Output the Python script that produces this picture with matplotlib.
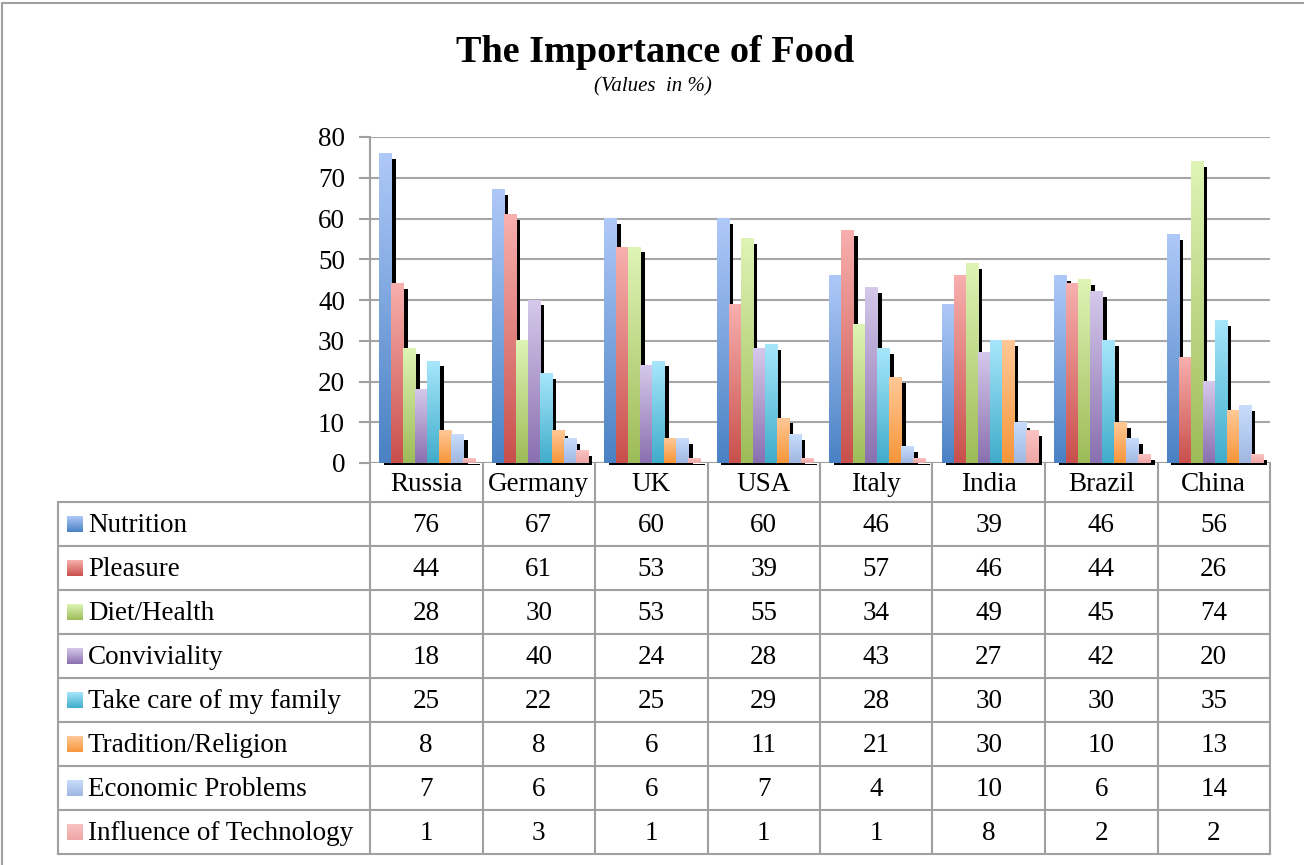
import numpy as np
import matplotlib.pyplot as plt
from matplotlib.colors import LinearSegmentedColormap
from matplotlib.lines import Line2D

countries = ['Russia', 'Germany', 'UK', 'USA', 'Italy', 'India', 'Brazil', 'China']
series = ['Nutrition', 'Pleasure', 'Diet/Health', 'Conviviality',
          'Take care of my family', 'Tradition/Religion',
          'Economic Problems', 'Influence of Technology']

nutrition = [76, 67, 60, 60, 46, 39, 46, 56]
pleasure = [44, 61, 53, 39, 57, 46, 44, 26]
diet_health = [28, 30, 53, 55, 34, 49, 45, 74]
conviviality = [18, 40, 24, 28, 43, 27, 42, 20]
family = [25, 22, 25, 29, 28, 30, 30, 35]
tradition = [8, 8, 6, 11, 21, 30, 10, 13]
economic = [7, 6, 6, 7, 4, 10, 6, 14]
technology = [1, 3, 1, 1, 1, 8, 2, 2]
values = [nutrition, pleasure, diet_health, conviviality,
          family, tradition, economic, technology]

# gradient colours (top, bottom) for each series
top_colors = ['#AEC8F8', '#F7AFAD', '#DEF4B5', '#D5C8EA',
              '#A6E6FB', '#FFC896', '#C8DDFC', '#FBC3C3']
bottom_colors = ['#4A82C4', '#C9504C', '#9DBC58', '#8A70B0',
                 '#41ADCB', '#F7963A', '#A0B7E2', '#EEA6A5']

plt.rcParams['font.family'] = ['Liberation Serif', 'DejaVu Serif']

W, H = 1304, 865
fig = plt.figure(figsize=(W / 100, H / 100), dpi=100)


def fx(px):
    return px / W


def fy(py):
    return 1 - py / H


# plot area in pixel coordinates
x_left, x_right = 370, 1270
y_top, y_zero = 137, 463
ax = fig.add_axes([fx(x_left), fy(y_zero), fx(x_right - x_left), fy(y_top) - fy(y_zero)])

n = len(countries)
bar_w = 0.107
start = 0.08
sh_dx, sh_dy = 0.04, 1.3
grad = np.linspace(1, 0, 64).reshape(-1, 1)

for j, (vals, c_top, c_bot) in enumerate(zip(values, top_colors, bottom_colors)):
    cmap = LinearSegmentedColormap.from_list('g%d' % j, [c_bot, c_top])
    for i, v in enumerate(vals):
        x0 = i + start + j * bar_w
        # black shadow behind the bar
        ax.bar(x0 + sh_dx, v - sh_dy + 0.5, width=bar_w, bottom=-0.5, align='edge',
               color='black', zorder=2 + j * 2, clip_on=False)
        ax.imshow(grad, cmap=cmap, extent=[x0, x0 + bar_w, 0, v], aspect='auto',
                  zorder=3 + j * 2, interpolation='bilinear', vmin=0, vmax=1)

ax.set_xlim(0, n)
ax.set_ylim(0, 80)
ax.set_yticks(range(0, 81, 10))
ax.set_xticks([])
ax.yaxis.grid(True, color='#A6A6A6', linewidth=1.5)
ax.set_axisbelow(True)
for s in ['top', 'right', 'bottom']:
    ax.spines[s].set_visible(False)
ax.spines['left'].set_color('#A0A0A0')
ax.spines['left'].set_linewidth(1.5)
ax.tick_params(axis='y', length=8, width=1.5, color='#A0A0A0', labelsize=19.5, pad=10)
ax.axhline(0, color='#A0A0A0', linewidth=1.5, zorder=1)

# title
fig.text(fx(655), fy(53), 'The Importance of Food', ha='center', va='center',
         fontsize=27.5, fontweight='bold')
fig.text(fx(653), fy(87), '(Values  in %)', ha='center', va='center',
         fontsize=15, style='italic')

# data table below the chart
line_c = '#A0A0A0'
col_w = (x_right - x_left) / n
row_top = 502
row_h = 44
tab_left = 58
tab_bottom = row_top + row_h * len(series)
fs = 19.5


def hline(y, x0, x1):
    fig.add_artist(Line2D([fx(x0), fx(x1)], [fy(y), fy(y)], color=line_c, linewidth=1.5))


def vline(x, y0, y1):
    fig.add_artist(Line2D([fx(x), fx(x)], [fy(y0), fy(y1)], color=line_c, linewidth=1.5))


for k in range(len(series) + 1):
    hline(row_top + k * row_h, tab_left, x_right)
vline(tab_left, row_top, tab_bottom)
for i in range(n + 1):
    vline(x_left + i * col_w, y_zero, tab_bottom)

for i, c in enumerate(countries):
    fig.text(fx(x_left + (i + 0.5) * col_w), fy(484), c, ha='center', va='center', fontsize=fs)

for j, name in enumerate(series):
    yc = row_top + (j + 0.5) * row_h
    cmap = LinearSegmentedColormap.from_list('k%d' % j, [bottom_colors[j], top_colors[j]])
    kax = fig.add_axes([fx(67), fy(yc + 8), fx(16), fy(yc - 8) - fy(yc + 8)])
    kax.imshow(grad, cmap=cmap, aspect='auto', interpolation='bilinear', vmin=0, vmax=1)
    kax.axis('off')
    fig.text(fx(88), fy(yc + 1), name, ha='left', va='center', fontsize=fs)
    for i, v in enumerate(values[j]):
        fig.text(fx(x_left + (i + 0.5) * col_w), fy(yc + 1), str(v),
                 ha='center', va='center', fontsize=fs)

# outer frame
fig.add_artist(Line2D([fx(2), fx(2), fx(W)], [fy(H), fy(3), fy(3)], color='#A0A0A0', linewidth=1.5))

fig.savefig('out.png', dpi=100)
